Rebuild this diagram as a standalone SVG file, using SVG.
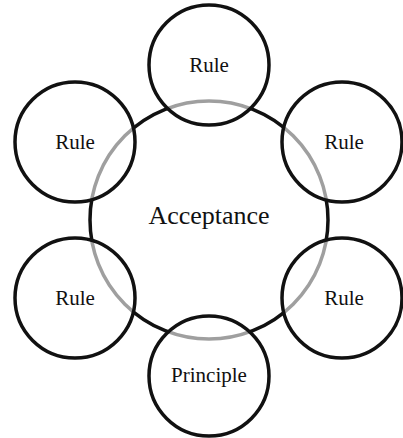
<svg xmlns="http://www.w3.org/2000/svg" width="403" height="438" viewBox="0 0 403 438">
<style>
.big{fill:none;stroke:#111;stroke-width:3.5}
.node circle{fill:#fff;fill-opacity:0.6;stroke:#111;stroke-width:3.5}
text{font-family:"Liberation Serif","Times New Roman",serif;fill:#111;text-anchor:middle}
.lbl{font-size:21px}
.main{font-size:26px}
</style>
<rect width="403" height="438" fill="#fff"/>
<g id="acceptance">
<circle class="big" cx="209" cy="220" r="119"/>
<text class="main" x="209" y="224">Acceptance</text>
</g>
<g id="connectors"></g>
<g id="rule-top" class="node"><circle cx="209" cy="65" r="60"/><text class="lbl" x="209" y="72">Rule</text></g>
<g id="rule-upper-left" class="node"><circle cx="75" cy="142" r="60"/><text class="lbl" x="75" y="149">Rule</text></g>
<g id="rule-upper-right" class="node"><circle cx="342" cy="142" r="60"/><text class="lbl" x="344" y="149">Rule</text></g>
<g id="rule-lower-left" class="node"><circle cx="75" cy="298" r="60"/><text class="lbl" x="75" y="305">Rule</text></g>
<g id="rule-lower-right" class="node"><circle cx="342" cy="298" r="60"/><text class="lbl" x="344" y="305">Rule</text></g>
<g id="principle" class="node"><circle cx="209" cy="376" r="60"/><text class="lbl" x="209" y="382">Principle</text></g>
</svg>
